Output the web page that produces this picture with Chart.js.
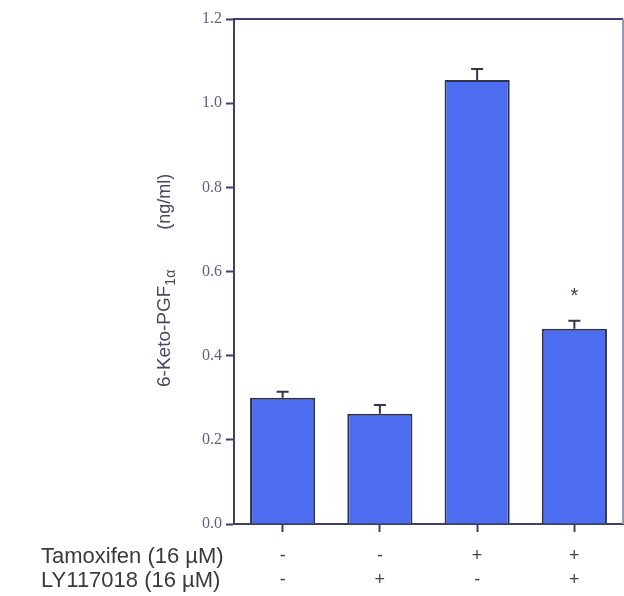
<!DOCTYPE html>
<html>
<head>
<meta charset="utf-8">
<script src="https://cdn.jsdelivr.net/npm/chart.js@4/dist/chart.umd.min.js"></script>
<style>
  html, body { margin: 0; padding: 0; background: #fff; }
  #wrap { width: 624px; height: 596px; }
</style>
</head>
<body>
<div id="wrap"><canvas id="chart" width="624" height="596"></canvas></div>
<script>
// treatment rows shown under the x axis
const rowNames = ['Tamoxifen (16 µM)', 'LY117018 (16 µM)'];
const tamoxifen = ['-', '-', '+', '+'];
const ly117018 = ['-', '+', '-', '+'];

// 6-Keto-PGF1a, ng/ml, mean and upper error
const keto = [0.300, 0.262, 1.055, 0.464];
const kerr = [0.014, 0.021, 0.026, 0.019];
const marks = ['', '', '', '*'];

const yTicks = [0.0, 0.2, 0.4, 0.6, 0.8, 1.0, 1.2];

const axisColor = '#3c4068';
const tickColor = '#5c6184';

const labels = tamoxifen.map((t, i) => [t, ly117018[i]]);

const extras = {
    id: 'extras',
    afterDatasetsDraw: (chart) => {
        const ctx = chart.ctx;
        const y = chart.scales.y;
        const meta = chart.getDatasetMeta(0);
        ctx.save();
        // error bars (upper only)
        ctx.strokeStyle = '#34364e';
        ctx.lineWidth = 2;
        meta.data.forEach((bar, i) => {
            const top = y.getPixelForValue(keto[i] + kerr[i]);
            ctx.beginPath();
            ctx.moveTo(bar.x, bar.y);
            ctx.lineTo(bar.x, top);
            ctx.moveTo(bar.x - 6, top);
            ctx.lineTo(bar.x + 6, top);
            ctx.stroke();
            if (marks[i]) {
                ctx.fillStyle = '#3a3d55';
                ctx.font = '20px "Liberation Sans", Arial, sans-serif';
                ctx.textAlign = 'center';
                ctx.textBaseline = 'middle';
                ctx.fillText(marks[i], bar.x, top - 24);
            }
        });
        ctx.restore();
    },
    afterDraw: (chart) => {
        const ctx = chart.ctx;
        const a = chart.chartArea;
        ctx.save();
        // top and right frame
        ctx.lineWidth = 2;
        ctx.strokeStyle = axisColor;
        ctx.beginPath();
        ctx.moveTo(a.left, a.top);
        ctx.lineTo(a.right, a.top);
        ctx.stroke();
        ctx.strokeStyle = '#8d9ac8';
        ctx.beginPath();
        ctx.moveTo(a.right, a.top);
        ctx.lineTo(a.right, a.bottom);
        ctx.stroke();

        // row names at left of the sign table
        ctx.fillStyle = '#3a3a3a';
        ctx.font = '22px "Liberation Sans", Arial, sans-serif';
        ctx.textAlign = 'left';
        ctx.textBaseline = 'middle';
        ctx.fillText(rowNames[0], 41, 557);
        ctx.fillText(rowNames[1], 41, 581);

        // y axis title with subscript
        ctx.translate(170, 387);
        ctx.rotate(-Math.PI / 2);
        ctx.fillStyle = '#454860';
        ctx.textBaseline = 'alphabetic';
        ctx.font = '19px "Liberation Sans", Arial, sans-serif';
        let x = 0;
        ctx.fillText('6-Keto-PGF', x, 0);
        x += ctx.measureText('6-Keto-PGF').width;
        ctx.font = '14px "Liberation Sans", Arial, sans-serif';
        ctx.fillText('1α', x, 5);
        x += ctx.measureText('1α').width;
        ctx.font = '18px "Liberation Sans", Arial, sans-serif';
        x += 40;
        ctx.fillText('(ng/ml)', x, 0);
        ctx.restore();
    }
};

new Chart(document.getElementById('chart'), {
    type: 'bar',
    plugins: [extras],
    data: {
        labels: labels,
        datasets: [{
            data: keto,
            backgroundColor: '#4d6df0',
            borderColor: '#2c3150',
            borderWidth: 2,
            borderSkipped: 'bottom',
            barPercentage: 0.67,
            categoryPercentage: 1.0
        }]
    },
    options: {
        responsive: false,
        animation: false,
        layout: {
            padding: { top: 19, right: 1, left: 0, bottom: 0 }
        },
        scales: {
            x: {
                afterFit: (s) => { s.height = 72; },
                grid: {
                    offset: false,
                    drawOnChartArea: false,
                    drawTicks: true,
                    tickLength: 8,
                    tickWidth: 2,
                    tickColor: axisColor
                },
                border: { color: axisColor, width: 2 },
                ticks: {
                    color: '#444',
                    padding: 12,
                    font: { family: '"Liberation Sans", Arial, sans-serif', size: 18, lineHeight: 1.34 }
                }
            },
            y: {
                min: 0,
                max: 1.2,
                afterFit: (s) => { s.width = 234; },
                afterBuildTicks: (s) => { s.ticks = yTicks.map(v => ({ value: v })); },
                grid: {
                    drawOnChartArea: false,
                    drawTicks: true,
                    tickLength: 8,
                    tickWidth: 2,
                    tickColor: axisColor
                },
                border: { color: axisColor, width: 2 },
                ticks: {
                    color: tickColor,
                    padding: 4,
                    font: { family: '"Liberation Serif", "Times New Roman", serif', size: 16 },
                    callback: (v) => Number(v).toFixed(1)
                }
            }
        },
        plugins: {
            legend: { display: false },
            tooltip: { enabled: false }
        }
    }
});
</script>
</body>
</html>
